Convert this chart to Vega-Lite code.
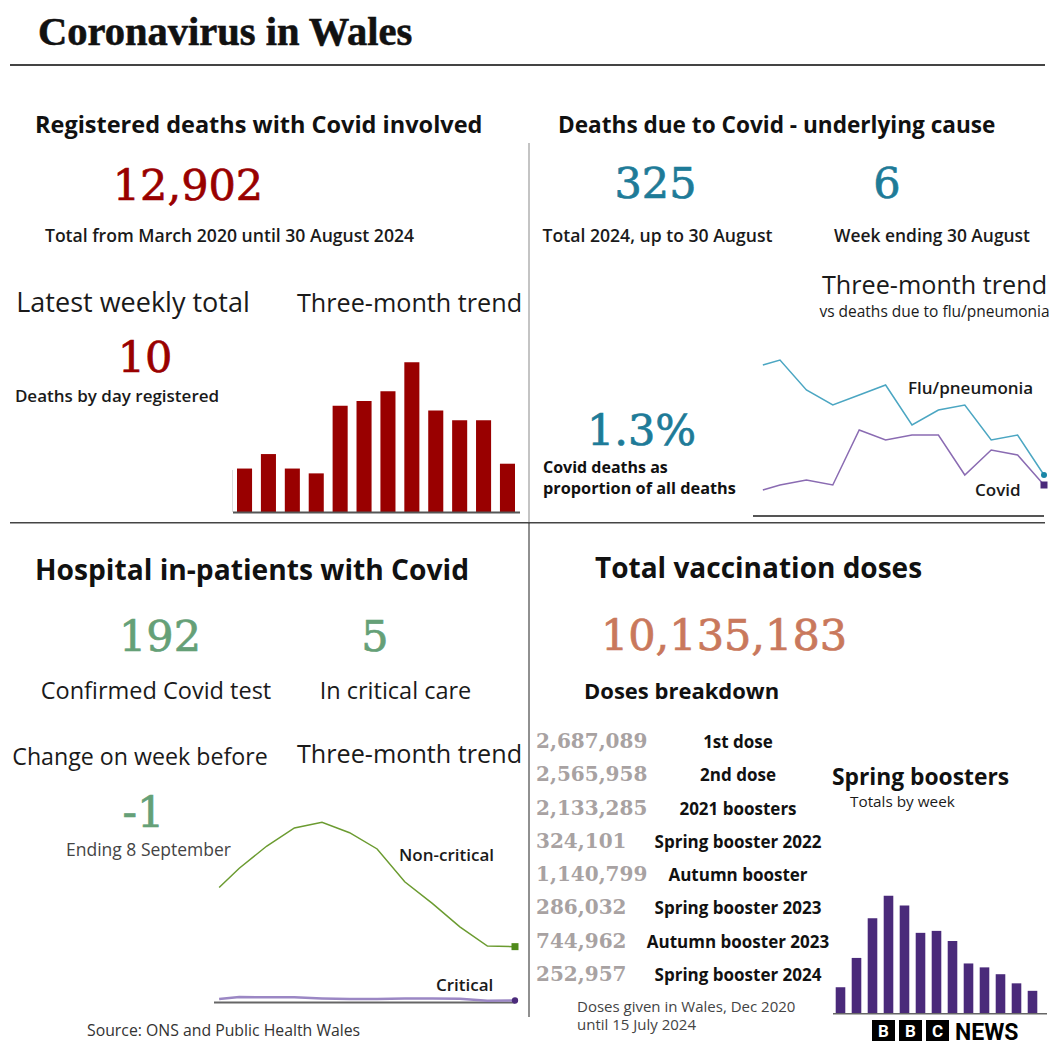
{
  "$schema": "https://vega.github.io/schema/vega-lite/v6.json",
  "width": 1056,
  "height": 1056,
  "autosize": {"type": "none"},
  "padding": 0,
  "background": "white",
  "config": {
    "view": {"stroke": null},
    "locale": {"number": {"decimal": ".", "thousands": ",", "grouping": [3], "currency": ["£", ""], "minus": "-"}}
  },
  "datasets": {
    "weekly_deaths": [
      {"week": 1, "deaths": 9}, {"week": 2, "deaths": 12}, {"week": 3, "deaths": 9}, {"week": 4, "deaths": 8},
      {"week": 5, "deaths": 22}, {"week": 6, "deaths": 23}, {"week": 7, "deaths": 25}, {"week": 8, "deaths": 31},
      {"week": 9, "deaths": 21}, {"week": 10, "deaths": 19}, {"week": 11, "deaths": 19}, {"week": 12, "deaths": 10}
    ],
    "underlying_deaths": [
      {"week": 0.35, "cause": "Flu/pneumonia", "deaths": 30}, {"week": 1, "cause": "Flu/pneumonia", "deaths": 31},
      {"week": 2, "cause": "Flu/pneumonia", "deaths": 25}, {"week": 3, "cause": "Flu/pneumonia", "deaths": 22},
      {"week": 4, "cause": "Flu/pneumonia", "deaths": 24}, {"week": 5, "cause": "Flu/pneumonia", "deaths": 26},
      {"week": 6, "cause": "Flu/pneumonia", "deaths": 18}, {"week": 7, "cause": "Flu/pneumonia", "deaths": 21},
      {"week": 8, "cause": "Flu/pneumonia", "deaths": 22}, {"week": 9, "cause": "Flu/pneumonia", "deaths": 15},
      {"week": 10, "cause": "Flu/pneumonia", "deaths": 16}, {"week": 11, "cause": "Flu/pneumonia", "deaths": 8},
      {"week": 0.35, "cause": "Covid", "deaths": 5}, {"week": 1, "cause": "Covid", "deaths": 6},
      {"week": 2, "cause": "Covid", "deaths": 7}, {"week": 3, "cause": "Covid", "deaths": 6},
      {"week": 4, "cause": "Covid", "deaths": 17}, {"week": 5, "cause": "Covid", "deaths": 15},
      {"week": 6, "cause": "Covid", "deaths": 16}, {"week": 7, "cause": "Covid", "deaths": 16},
      {"week": 8, "cause": "Covid", "deaths": 8}, {"week": 9, "cause": "Covid", "deaths": 13},
      {"week": 10, "cause": "Covid", "deaths": 12}, {"week": 11, "cause": "Covid", "deaths": 6}
    ],
    "inpatients": [
      {"week": 0.27, "type": "Non-critical", "patients": 387}, {"week": 1, "type": "Non-critical", "patients": 452},
      {"week": 2, "type": "Non-critical", "patients": 527}, {"week": 3, "type": "Non-critical", "patients": 588},
      {"week": 4, "type": "Non-critical", "patients": 607}, {"week": 5, "type": "Non-critical", "patients": 572},
      {"week": 6, "type": "Non-critical", "patients": 517}, {"week": 7, "type": "Non-critical", "patients": 406},
      {"week": 8, "type": "Non-critical", "patients": 333}, {"week": 9, "type": "Non-critical", "patients": 254},
      {"week": 10, "type": "Non-critical", "patients": 189}, {"week": 11, "type": "Non-critical", "patients": 187},
      {"week": 0.27, "type": "Critical", "patients": 10}, {"week": 1, "type": "Critical", "patients": 17},
      {"week": 2, "type": "Critical", "patients": 16}, {"week": 3, "type": "Critical", "patients": 16},
      {"week": 4, "type": "Critical", "patients": 12}, {"week": 5, "type": "Critical", "patients": 10},
      {"week": 6, "type": "Critical", "patients": 10}, {"week": 7, "type": "Critical", "patients": 12},
      {"week": 8, "type": "Critical", "patients": 12}, {"week": 9, "type": "Critical", "patients": 11},
      {"week": 10, "type": "Critical", "patients": 4}, {"week": 11, "type": "Critical", "patients": 5}
    ],
    "spring_boosters": [
      {"week": 1, "doses": 8000}, {"week": 2, "doses": 17000}, {"week": 3, "doses": 29200}, {"week": 4, "doses": 36100},
      {"week": 5, "doses": 33100}, {"week": 6, "doses": 24700}, {"week": 7, "doses": 25300}, {"week": 8, "doses": 22200},
      {"week": 9, "doses": 15300}, {"week": 10, "doses": 14100}, {"week": 11, "doses": 12000}, {"week": 12, "doses": 9200},
      {"week": 13, "doses": 6900}
    ],
    "dose_breakdown": [
      {"dose": "1st dose", "total": 2687089},
      {"dose": "2nd dose", "total": 2565958},
      {"dose": "2021 boosters", "total": 2133285},
      {"dose": "Spring booster 2022", "total": 324101},
      {"dose": "Autumn booster", "total": 1140799},
      {"dose": "Spring booster 2023", "total": 286032},
      {"dose": "Autumn booster 2023", "total": 744962},
      {"dose": "Spring booster 2024", "total": 252957}
    ]
  },
  "data": {"values": [{}]},
  "layer": [
    {"mark": {"type": "rect", "x": 10, "x2": 1045, "y": 64, "y2": 66, "color": "#444444"}, "encoding": {}},
    {"mark": {"type": "rect", "x": 10, "x2": 1045, "y": 522, "y2": 523.5, "color": "#444444"}, "encoding": {}},
    {"mark": {"type": "rect", "x": 528.5, "x2": 529.5, "y": 143, "y2": 522, "color": "#8a8a8a"}, "encoding": {}},
    {"mark": {"type": "rect", "x": 528.5, "x2": 529.5, "y": 523, "y2": 1017, "color": "#222222"}, "encoding": {}},

    {"mark": {"type": "text", "text": "Coronavirus in Wales", "x": 38, "y": 45, "align": "left", "baseline": "alphabetic", "font": "Liberation Serif", "fontWeight": "bold", "fontSize": 40.5, "color": "#111111", "stroke": "#111111", "strokeWidth": 0.6}},
    {"mark": {"type": "text", "text": "Registered deaths with Covid involved", "x": 35, "y": 133, "align": "left", "baseline": "alphabetic", "font": "Open Sans", "fontWeight": "bold", "fontSize": 23.5, "color": "#111111"}},
    {"mark": {"type": "text", "text": "Deaths due to Covid - underlying cause", "x": 558, "y": 133, "align": "left", "baseline": "alphabetic", "font": "Open Sans", "fontWeight": "bold", "fontSize": 22.6, "color": "#111111"}},

    {"data": {"values": [{"total": 12902}]}, "mark": {"type": "text", "x": 188, "y": 200, "align": "center", "baseline": "alphabetic", "font": "DejaVu Serif", "fontSize": 43, "color": "#990000", "stroke": "#990000", "strokeWidth": 0.7}, "encoding": {"text": {"field": "total", "format": ","}}},
    {"mark": {"type": "text", "text": "Total from March 2020 until 30 August 2024", "x": 229.5, "y": 242, "align": "center", "baseline": "alphabetic", "font": "Open Sans", "fontWeight": 600, "fontSize": 17.6, "color": "#1a1a1a"}},
    {"data": {"values": [{"total": 325}]}, "mark": {"type": "text", "x": 655.5, "y": 198, "align": "center", "baseline": "alphabetic", "font": "DejaVu Serif", "fontSize": 43, "color": "#1e7b98", "stroke": "#1e7b98", "strokeWidth": 0.7}, "encoding": {"text": {"field": "total", "format": ","}}},
    {"data": {"values": [{"week_total": 6}]}, "mark": {"type": "text", "x": 887, "y": 198, "align": "center", "baseline": "alphabetic", "font": "DejaVu Serif", "fontSize": 43, "color": "#1e7b98", "stroke": "#1e7b98", "strokeWidth": 0.7}, "encoding": {"text": {"field": "week_total", "format": ","}}},
    {"mark": {"type": "text", "text": "Total 2024, up to 30 August", "x": 657.5, "y": 242, "align": "center", "baseline": "alphabetic", "font": "Open Sans", "fontWeight": 600, "fontSize": 17.6, "color": "#1a1a1a"}},
    {"mark": {"type": "text", "text": "Week ending 30 August", "x": 932, "y": 242, "align": "center", "baseline": "alphabetic", "font": "Open Sans", "fontWeight": 600, "fontSize": 17.4, "color": "#1a1a1a"}},

    {"mark": {"type": "text", "text": "Latest weekly total", "x": 133, "y": 312, "align": "center", "baseline": "alphabetic", "font": "Open Sans", "fontSize": 27, "color": "#1a1a1a"}},
    {"mark": {"type": "text", "text": "Three-month trend", "x": 409.5, "y": 312, "align": "center", "baseline": "alphabetic", "font": "Open Sans", "fontSize": 25.2, "color": "#1a1a1a"}},
    {"data": {"values": [{"latest": 10}]}, "mark": {"type": "text", "x": 145, "y": 372, "align": "center", "baseline": "alphabetic", "font": "DejaVu Serif", "fontSize": 43, "color": "#990000", "stroke": "#990000", "strokeWidth": 0.7}, "encoding": {"text": {"field": "latest", "format": ","}}},
    {"mark": {"type": "text", "text": "Deaths by day registered", "x": 117, "y": 402, "align": "center", "baseline": "alphabetic", "font": "Open Sans", "fontWeight": 600, "fontSize": 17, "color": "#1a1a1a"}},

    {"data": {"name": "weekly_deaths"}, "mark": {"type": "bar", "color": "#990000"},
     "encoding": {
       "x": {"field": "week", "type": "ordinal", "axis": null, "scale": {"type": "band", "range": [237, 515], "paddingInner": 0.37, "paddingOuter": 0}},
       "y": {"field": "deaths", "type": "quantitative", "axis": null, "scale": {"domain": [0, 35], "range": [512, 343], "nice": false}}
     }},
    {"mark": {"type": "rect", "x": 233, "x2": 520, "y": 511.5, "y2": 513.5, "color": "#555555"}, "encoding": {}},
    {"mark": {"type": "rect", "x": 232, "x2": 233, "y": 470, "y2": 512, "color": "#dddddd"}, "encoding": {}},

    {"mark": {"type": "text", "text": "Three-month trend", "x": 934.5, "y": 294, "align": "center", "baseline": "alphabetic", "font": "Open Sans", "fontSize": 25.2, "color": "#1a1a1a"}},
    {"mark": {"type": "text", "text": "vs deaths due to flu/pneumonia", "x": 934.5, "y": 317, "align": "center", "baseline": "alphabetic", "font": "Open Sans", "fontSize": 15.5, "color": "#1a1a1a"}},
    {"data": {"name": "underlying_deaths"}, "transform": [{"filter": {"field": "cause", "equal": "Flu/pneumonia"}}],
     "mark": {"type": "line", "color": "#4ba6c2", "strokeWidth": 1.5},
     "encoding": {
       "x": {"field": "week", "type": "quantitative", "axis": null, "scale": {"domain": [0, 11], "range": [753.6, 1044], "nice": false, "zero": false}},
       "y": {"field": "deaths", "type": "quantitative", "axis": null, "scale": {"domain": [0, 31], "range": [515, 360], "nice": false}}
     }},
    {"data": {"name": "underlying_deaths"}, "transform": [{"filter": {"field": "cause", "equal": "Covid"}}],
     "mark": {"type": "line", "color": "#8a6bb2", "strokeWidth": 1.5},
     "encoding": {
       "x": {"field": "week", "type": "quantitative", "axis": null, "scale": {"domain": [0, 11], "range": [753.6, 1044], "nice": false, "zero": false}},
       "y": {"field": "deaths", "type": "quantitative", "axis": null, "scale": {"domain": [0, 31], "range": [515, 360], "nice": false}}
     }},
    {"data": {"name": "underlying_deaths"}, "transform": [{"filter": {"field": "cause", "equal": "Flu/pneumonia"}}, {"filter": {"field": "week", "equal": 11}}],
     "mark": {"type": "point", "shape": "circle", "filled": true, "size": 36, "color": "#1a86a6", "opacity": 1},
     "encoding": {
       "x": {"field": "week", "type": "quantitative", "axis": null, "scale": {"domain": [0, 11], "range": [753.6, 1044], "nice": false, "zero": false}},
       "y": {"field": "deaths", "type": "quantitative", "axis": null, "scale": {"domain": [0, 31], "range": [515, 360], "nice": false}}
     }},
    {"data": {"name": "underlying_deaths"}, "transform": [{"filter": {"field": "cause", "equal": "Covid"}}, {"filter": {"field": "week", "equal": 11}}],
     "mark": {"type": "point", "shape": "square", "filled": true, "size": 49, "color": "#4b2a7b", "opacity": 1},
     "encoding": {
       "x": {"field": "week", "type": "quantitative", "axis": null, "scale": {"domain": [0, 11], "range": [753.6, 1044], "nice": false, "zero": false}},
       "y": {"field": "deaths", "type": "quantitative", "axis": null, "scale": {"domain": [0, 31], "range": [515, 360], "nice": false}}
     }},
    {"mark": {"type": "rect", "x": 753, "x2": 1044, "y": 515, "y2": 517, "color": "#555555"}, "encoding": {}},
    {"mark": {"type": "text", "text": "Flu/pneumonia", "x": 908, "y": 394, "align": "left", "baseline": "alphabetic", "font": "Open Sans", "fontWeight": 600, "fontSize": 17, "color": "#1a1a1a"}},
    {"mark": {"type": "text", "text": "Covid", "x": 975, "y": 496, "align": "left", "baseline": "alphabetic", "font": "Open Sans", "fontWeight": 600, "fontSize": 17, "color": "#1a1a1a"}},
    {"data": {"values": [{"share": 0.013}]}, "mark": {"type": "text", "x": 641.5, "y": 445, "align": "center", "baseline": "alphabetic", "font": "DejaVu Serif", "fontSize": 43, "color": "#1e7b98", "stroke": "#1e7b98", "strokeWidth": 0.7}, "encoding": {"text": {"field": "share", "format": ".1%"}}},
    {"mark": {"type": "text", "text": "Covid deaths as", "x": 543, "y": 473, "align": "left", "baseline": "alphabetic", "font": "Open Sans", "fontWeight": "bold", "fontSize": 16, "color": "#111111"}},
    {"mark": {"type": "text", "text": "proportion of all deaths", "x": 543, "y": 494, "align": "left", "baseline": "alphabetic", "font": "Open Sans", "fontWeight": "bold", "fontSize": 16.3, "color": "#111111"}},

    {"mark": {"type": "text", "text": "Hospital in-patients with Covid", "x": 35, "y": 580, "align": "left", "baseline": "alphabetic", "font": "Open Sans", "fontWeight": "bold", "fontSize": 28.2, "color": "#111111"}},
    {"mark": {"type": "text", "text": "Total vaccination doses", "x": 595, "y": 578, "align": "left", "baseline": "alphabetic", "font": "Open Sans", "fontWeight": "bold", "fontSize": 28, "color": "#111111"}},
    {"data": {"values": [{"patients": 192}]}, "mark": {"type": "text", "x": 160, "y": 651, "align": "center", "baseline": "alphabetic", "font": "DejaVu Serif", "fontSize": 43, "color": "#65a077", "stroke": "#65a077", "strokeWidth": 0.7}, "encoding": {"text": {"field": "patients", "format": ","}}},
    {"data": {"values": [{"critical": 5}]}, "mark": {"type": "text", "x": 375, "y": 651, "align": "center", "baseline": "alphabetic", "font": "DejaVu Serif", "fontSize": 43, "color": "#65a077", "stroke": "#65a077", "strokeWidth": 0.7}, "encoding": {"text": {"field": "critical", "format": ","}}},
    {"data": {"values": [{"doses": 10135183}]}, "mark": {"type": "text", "x": 724, "y": 650, "align": "center", "baseline": "alphabetic", "font": "DejaVu Serif", "fontSize": 43, "color": "#c9785c", "stroke": "#c9785c", "strokeWidth": 0.7}, "encoding": {"text": {"field": "doses", "format": ","}}},
    {"mark": {"type": "text", "text": "Confirmed Covid test", "x": 156, "y": 699, "align": "center", "baseline": "alphabetic", "font": "Open Sans", "fontSize": 23.5, "color": "#1a1a1a"}},
    {"mark": {"type": "text", "text": "In critical care", "x": 395.5, "y": 699, "align": "center", "baseline": "alphabetic", "font": "Open Sans", "fontSize": 23.5, "color": "#1a1a1a"}},
    {"mark": {"type": "text", "text": "Doses breakdown", "x": 584, "y": 699, "align": "left", "baseline": "alphabetic", "font": "Open Sans", "fontWeight": "bold", "fontSize": 22, "color": "#111111"}},
    {"mark": {"type": "text", "text": "Change on week before", "x": 140, "y": 765, "align": "center", "baseline": "alphabetic", "font": "Open Sans", "fontSize": 23.2, "color": "#1a1a1a"}},
    {"mark": {"type": "text", "text": "Three-month trend", "x": 409.5, "y": 763, "align": "center", "baseline": "alphabetic", "font": "Open Sans", "fontSize": 25.2, "color": "#1a1a1a"}},
    {"data": {"values": [{"change": -1}]}, "mark": {"type": "text", "x": 143.5, "y": 827, "align": "center", "baseline": "alphabetic", "font": "DejaVu Serif", "fontSize": 43, "color": "#65a077", "stroke": "#65a077", "strokeWidth": 0.7}, "encoding": {"text": {"field": "change", "format": "d"}}},
    {"mark": {"type": "text", "text": "Ending 8 September", "x": 148.5, "y": 856, "align": "center", "baseline": "alphabetic", "font": "Open Sans", "fontSize": 17.5, "color": "#444444"}},

    {"data": {"name": "inpatients"}, "transform": [{"filter": {"field": "type", "equal": "Non-critical"}}],
     "mark": {"type": "line", "color": "#6b9b30", "strokeWidth": 1.5},
     "encoding": {
       "x": {"field": "week", "type": "quantitative", "axis": null, "scale": {"domain": [0, 11], "range": [211.7, 515], "nice": false, "zero": false}},
       "y": {"field": "patients", "type": "quantitative", "axis": null, "scale": {"domain": [0, 650], "range": [1002, 809.6], "nice": false}}
     }},
    {"mark": {"type": "rect", "x": 214, "x2": 515, "y": 1001.5, "y2": 1003.5, "color": "#666666"}, "encoding": {}},
    {"data": {"name": "inpatients"}, "transform": [{"filter": {"field": "type", "equal": "Critical"}}],
     "mark": {"type": "line", "color": "#9b87c4", "strokeWidth": 2.5},
     "encoding": {
       "x": {"field": "week", "type": "quantitative", "axis": null, "scale": {"domain": [0, 11], "range": [211.7, 515], "nice": false, "zero": false}},
       "y": {"field": "patients", "type": "quantitative", "axis": null, "scale": {"domain": [0, 650], "range": [1002, 809.6], "nice": false}}
     }},
    {"data": {"name": "inpatients"}, "transform": [{"filter": {"field": "type", "equal": "Non-critical"}}, {"filter": {"field": "week", "equal": 11}}],
     "mark": {"type": "point", "shape": "square", "filled": true, "size": 49, "color": "#4f8a1b", "opacity": 1},
     "encoding": {
       "x": {"field": "week", "type": "quantitative", "axis": null, "scale": {"domain": [0, 11], "range": [211.7, 515], "nice": false, "zero": false}},
       "y": {"field": "patients", "type": "quantitative", "axis": null, "scale": {"domain": [0, 650], "range": [1002, 809.6], "nice": false}}
     }},
    {"data": {"name": "inpatients"}, "transform": [{"filter": {"field": "type", "equal": "Critical"}}, {"filter": {"field": "week", "equal": 11}}],
     "mark": {"type": "point", "shape": "circle", "filled": true, "size": 40, "color": "#4b2a7b", "opacity": 1},
     "encoding": {
       "x": {"field": "week", "type": "quantitative", "axis": null, "scale": {"domain": [0, 11], "range": [211.7, 515], "nice": false, "zero": false}},
       "y": {"field": "patients", "type": "quantitative", "axis": null, "scale": {"domain": [0, 650], "range": [1002, 809.6], "nice": false}}
     }},
    {"mark": {"type": "text", "text": "Non-critical", "x": 399, "y": 861, "align": "left", "baseline": "alphabetic", "font": "Open Sans", "fontWeight": 600, "fontSize": 17, "color": "#1a1a1a"}},
    {"mark": {"type": "text", "text": "Critical", "x": 436, "y": 991, "align": "left", "baseline": "alphabetic", "font": "Open Sans", "fontWeight": 600, "fontSize": 17, "color": "#1a1a1a"}},

    {"data": {"name": "dose_breakdown"},
     "mark": {"type": "text", "x": 536, "align": "left", "baseline": "alphabetic", "font": "DejaVu Serif", "fontWeight": "bold", "fontSize": 20, "color": "#a8a2a2"},
     "encoding": {
       "y": {"field": "dose", "type": "ordinal", "sort": null, "axis": null, "scale": {"type": "point", "range": [748, 981], "padding": 0}},
       "text": {"field": "total", "format": ","}
     }},
    {"data": {"name": "dose_breakdown"},
     "mark": {"type": "text", "x": 738, "align": "center", "baseline": "alphabetic", "font": "Open Sans", "fontWeight": "bold", "fontSize": 17, "color": "#111111"},
     "encoding": {
       "y": {"field": "dose", "type": "ordinal", "sort": null, "axis": null, "scale": {"type": "point", "range": [748, 981], "padding": 0}},
       "text": {"field": "dose"}
     }},
    {"mark": {"type": "text", "text": "Doses given in Wales, Dec 2020", "x": 577, "y": 1012, "align": "left", "baseline": "alphabetic", "font": "Open Sans", "fontSize": 15, "color": "#444444"}},
    {"mark": {"type": "text", "text": "until 15 July 2024", "x": 577, "y": 1030, "align": "left", "baseline": "alphabetic", "font": "Open Sans", "fontSize": 15, "color": "#444444"}},

    {"mark": {"type": "text", "text": "Spring boosters", "x": 832, "y": 785, "align": "left", "baseline": "alphabetic", "font": "Open Sans", "fontWeight": "bold", "fontSize": 22.8, "color": "#111111"}},
    {"mark": {"type": "text", "text": "Totals by week", "x": 850, "y": 807, "align": "left", "baseline": "alphabetic", "font": "Open Sans", "fontSize": 15.3, "color": "#1a1a1a"}},
    {"data": {"name": "spring_boosters"}, "mark": {"type": "bar", "color": "#4a2a7a"},
     "encoding": {
       "x": {"field": "week", "type": "ordinal", "axis": null, "scale": {"type": "band", "range": [835.7, 1037.3], "paddingInner": 0.4, "paddingOuter": 0}},
       "y": {"field": "doses", "type": "quantitative", "axis": null, "scale": {"domain": [0, 40000], "range": [1013.3, 883], "nice": false}}
     }},
    {"mark": {"type": "rect", "x": 833, "x2": 1047, "y": 1013, "y2": 1014.5, "color": "#666666"}, "encoding": {}},

    {"mark": {"type": "text", "text": "Source: ONS and Public Health Wales", "x": 87, "y": 1036, "align": "left", "baseline": "alphabetic", "font": "Open Sans", "fontSize": 15.8, "color": "#333333"}},

    {"mark": {"type": "rect", "x": 872, "x2": 895, "y": 1020, "y2": 1041, "color": "#000000"}, "encoding": {}},
    {"mark": {"type": "rect", "x": 899, "x2": 922, "y": 1020, "y2": 1041, "color": "#000000"}, "encoding": {}},
    {"mark": {"type": "rect", "x": 926, "x2": 949, "y": 1020, "y2": 1041, "color": "#000000"}, "encoding": {}},
    {"mark": {"type": "text", "text": "B", "x": 883.5, "y": 1037, "align": "center", "baseline": "alphabetic", "font": "Roboto", "fontWeight": "bold", "fontSize": 17, "color": "#ffffff"}},
    {"mark": {"type": "text", "text": "B", "x": 910.5, "y": 1037, "align": "center", "baseline": "alphabetic", "font": "Roboto", "fontWeight": "bold", "fontSize": 17, "color": "#ffffff"}},
    {"mark": {"type": "text", "text": "C", "x": 937.5, "y": 1037, "align": "center", "baseline": "alphabetic", "font": "Roboto", "fontWeight": "bold", "fontSize": 17, "color": "#ffffff"}},
    {"mark": {"type": "text", "text": "NEWS", "x": 955, "y": 1040, "align": "left", "baseline": "alphabetic", "font": "Roboto", "fontWeight": "bold", "fontSize": 23, "color": "#000000"}}
  ],
  "resolve": {"scale": {"x": "independent", "y": "independent"}}
}
